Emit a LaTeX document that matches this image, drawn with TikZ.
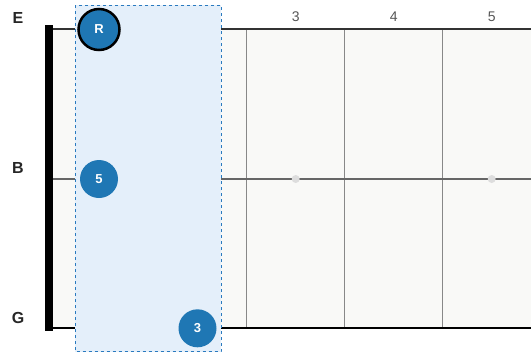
\documentclass[tikz,border=0pt]{standalone}
\usepackage{fontspec}
\setmainfont{Liberation Sans}
\definecolor{board}{HTML}{F9F9F7}
\definecolor{hl}{HTML}{E4EFFA}
\definecolor{hlborder}{HTML}{2A7ABF}
\definecolor{notec}{HTML}{1F77B4}
\definecolor{fretc}{HTML}{888888}
\definecolor{dotc}{HTML}{DDDDDD}
\definecolor{numc}{HTML}{555555}
\tikzset{
  strlabel/.style={font=\fontsize{16}{16}\selectfont\bfseries, text=black!85},
  fretnum/.style={font=\fontsize{14}{14}\selectfont, text=numc},
  notedot/.style={circle, fill=notec, minimum size=38pt, inner sep=0pt, text=white, font=\fontsize{13}{13}\selectfont\bfseries},
  rootdot/.style={notedot, draw=black, line width=2.5pt, minimum size=41pt},
  fretline/.style={draw=fretc, line width=1.3pt},
  markdot/.style={circle, fill=dotc, minimum size=8pt, inner sep=0pt},
}
\begin{document}
\begin{tikzpicture}[x=1pt,y=-1pt]
\useasboundingbox (0,0) rectangle (531,354);
% board
\fill[board] (52,29) rectangle (531,328);
% frets
\foreach \x in {148.7,246.7,344.7,442.7}{\draw[fretline] (\x,29) -- (\x,328);}
% strings
\coordinate (eL) at (52,29); \coordinate (eR) at (531,29);
\coordinate (bL) at (52,179); \coordinate (bR) at (531,179);
\coordinate (gL) at (52,328); \coordinate (gR) at (531,328);
\draw[black!80, line width=1.2pt] (eL) -- (eR);
\draw[black!60, line width=2.4pt] (bL) -- (bR);
\draw[black, line width=1.6pt] (gL) -- (gR);
% marker dots
\node[markdot] (m3) at (295.7,179) {};
\node[markdot] (m5) at (491.7,179) {};
% highlight
\draw[fill=hl, draw=hlborder, dashed, line width=0.9pt] (75,5) rectangle (221,351.5);
% nut
\fill[black] (45,25) rectangle (52.5,331);
% labels
\node[strlabel] (lE) at (18,18) {E};
\node[strlabel] (lB) at (18,168) {B};
\node[strlabel] (lG) at (18,318) {G};
\node[fretnum] (f3) at (295.7,17) {3};
\node[fretnum] (f4) at (393.7,17) {4};
\node[fretnum] (f5) at (491.7,17) {5};
% notes
\node[rootdot] (nR) at (99,29.5) {R};
\node[notedot] (n5) at (99,179) {5};
\node[notedot] (n3) at (197.5,328.3) {3};
\end{tikzpicture}
\end{document}
